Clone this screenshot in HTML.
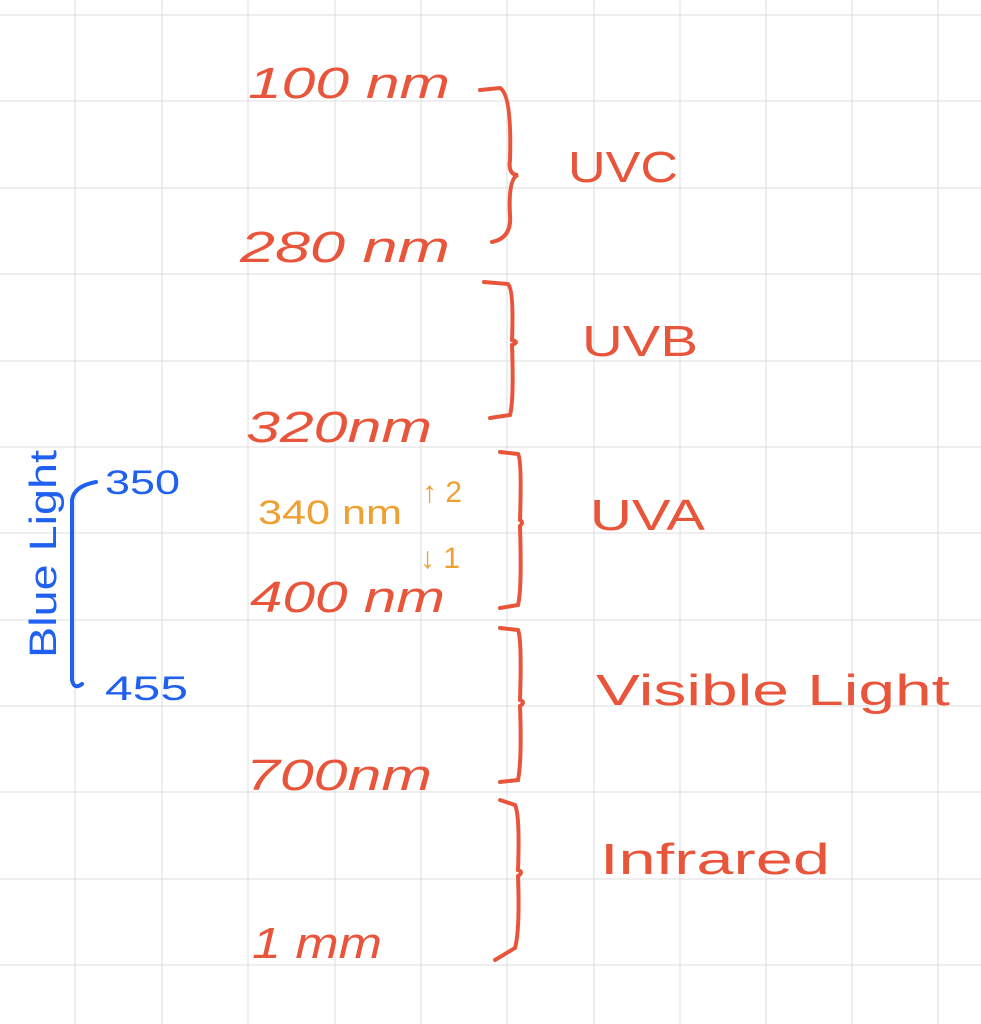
<!DOCTYPE html>
<html><head><meta charset="utf-8"><style>
body{margin:0;background:#fff;}
svg{display:block;}
text{font-family:"Liberation Sans",sans-serif;}
</style></head><body>
<svg width="981" height="1024" viewBox="0 0 981 1024">
<g stroke="#dcdcdc" stroke-width="1">
<line x1="75" y1="0" x2="75" y2="1024"/><line x1="162" y1="0" x2="162" y2="1024"/>
<line x1="248" y1="0" x2="248" y2="1024"/><line x1="335" y1="0" x2="335" y2="1024"/>
<line x1="421" y1="0" x2="421" y2="1024"/><line x1="507" y1="0" x2="507" y2="1024"/>
<line x1="594" y1="0" x2="594" y2="1024"/><line x1="680" y1="0" x2="680" y2="1024"/>
<line x1="766" y1="0" x2="766" y2="1024"/><line x1="852" y1="0" x2="852" y2="1024"/>
<line x1="938" y1="0" x2="938" y2="1024"/>
<line x1="0" y1="15" x2="981" y2="15"/><line x1="0" y1="101" x2="981" y2="101"/>
<line x1="0" y1="188" x2="981" y2="188"/><line x1="0" y1="274" x2="981" y2="274"/>
<line x1="0" y1="361" x2="981" y2="361"/><line x1="0" y1="447" x2="981" y2="447"/>
<line x1="0" y1="533" x2="981" y2="533"/><line x1="0" y1="620" x2="981" y2="620"/>
<line x1="0" y1="706" x2="981" y2="706"/><line x1="0" y1="792" x2="981" y2="792"/>
<line x1="0" y1="879" x2="981" y2="879"/><line x1="0" y1="965" x2="981" y2="965"/>
</g>
<g fill="#e8553a" font-size="44" font-style="italic">
<text x="248" y="98" textLength="202" lengthAdjust="spacingAndGlyphs">100 nm</text>
<text x="240" y="262" textLength="210" lengthAdjust="spacingAndGlyphs">280 nm</text>
<text x="246" y="442" textLength="186" lengthAdjust="spacingAndGlyphs">320nm</text>
<text x="250" y="612" textLength="195" lengthAdjust="spacingAndGlyphs">400 nm</text>
<text x="246" y="790" textLength="186" lengthAdjust="spacingAndGlyphs">700nm</text>
<text x="252" y="958" textLength="130" lengthAdjust="spacingAndGlyphs">1 mm</text>
</g>
<g fill="#e8553a" font-size="44">
<text x="568" y="182" textLength="110" lengthAdjust="spacingAndGlyphs">UVC</text>
<text x="582" y="356" textLength="116" lengthAdjust="spacingAndGlyphs">UVB</text>
<text x="590" y="530" textLength="115" lengthAdjust="spacingAndGlyphs">UVA</text>
<text x="596" y="705" textLength="354" lengthAdjust="spacingAndGlyphs">Visible Light</text>
<text x="600" y="874" textLength="230" lengthAdjust="spacingAndGlyphs">Infrared</text>
</g>
<g fill="none" stroke="#e8553a" stroke-width="4" stroke-linecap="round">
<path d="M480 90 L500 88 Q512 95 510 160 Q508 175 518 175 Q508 178 510 215 Q512 238 492 242"/>
<path d="M484 282 L508 284 Q514 290 512 340 Q520 342 512 345 Q514 400 510 415 L490 418"/>
<path d="M500 452 L518 454 Q522 460 520 520 Q524 522 520 526 Q522 590 518 605 L500 608"/>
<path d="M500 628 L518 630 Q522 640 520 700 Q526 702 520 706 Q522 760 518 780 L500 782"/>
<path d="M500 800 L515 805 Q520 815 518 870 Q524 872 518 876 Q520 930 515 948 L495 960"/>
</g>
<g fill="#f0a030">
<text x="258" y="524" font-size="34" textLength="144" lengthAdjust="spacingAndGlyphs">340 nm</text>
<text x="422" y="502" font-size="30">↑ 2</text>
<text x="420" y="568" font-size="30">↓ 1</text>
</g>
<g fill="#2060f0">
<text x="105" y="494" font-size="34" textLength="75" lengthAdjust="spacingAndGlyphs">350</text>
<text x="105" y="700" font-size="34" textLength="83" lengthAdjust="spacingAndGlyphs">455</text>
<text transform="translate(56,658) rotate(-90)" font-size="38" textLength="208" lengthAdjust="spacingAndGlyphs">Blue Light</text>
<path d="M96 482 Q74 486 72 500 L72 680 Q74 690 82 684" fill="none" stroke="#2060f0" stroke-width="4" stroke-linecap="round"/>
</g>
</svg>
</body></html>
